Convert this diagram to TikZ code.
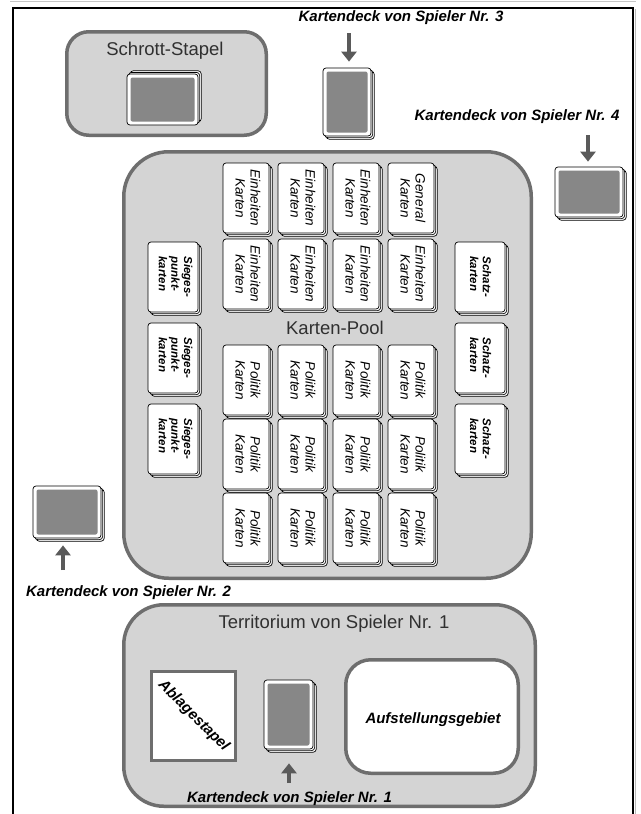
\documentclass[tikz,border=0pt]{standalone}
\usepackage{fontspec}
\setmainfont{Liberation Sans}
\usetikzlibrary{arrows.meta,shadows}

\definecolor{zonefill}{HTML}{D4D4D4}
\definecolor{zoneline}{HTML}{6E6E6E}
\definecolor{deckfill}{HTML}{878787}
\definecolor{arrowgray}{HTML}{5A5A5A}
\definecolor{titlegray}{HTML}{303030}

% two or three stacked lines, set in the current font
\newcommand{\cstack}[1]{\begin{tabular}{@{}c@{}}#1\end{tabular}}
\newcommand{\lstack}[1]{\begin{tabular}{@{}l@{}}#1\end{tabular}}

\begin{document}
\begin{tikzpicture}[x=1pt,y=-1pt,
  zone/.style={draw=zoneline, line width=3.5pt, fill=zonefill, inner sep=0pt, outer sep=0pt},
  zonetitle/.style={text=titlegray, font=\fontsize{18.5}{22}\selectfont, inner sep=0pt},
  stackcard/.style={draw=black, line width=0.7pt, fill=white, rounded corners=3pt, inner sep=0pt,
    double copy shadow={shadow xshift=1.6pt, shadow yshift=-1.6pt, fill=white, draw=black, line width=0.7pt}},
  upstack/.style={draw=black, line width=0.7pt, fill=white, rounded corners=3pt, inner sep=0pt,
    double copy shadow={shadow xshift=1.6pt, shadow yshift=1.6pt, fill=white, draw=black, line width=0.7pt}},
  deckface/.style={path picture={\fill[deckfill, rounded corners=2pt]
      ([xshift=3.5pt,yshift=-3.5pt]path picture bounding box.north west) rectangle
      ([xshift=-3.5pt,yshift=3.5pt]path picture bounding box.south east);}},
  cardtext/.style={rotate=-90, inner sep=0pt,
    font=\fontsize{13.5}{15}\selectfont\itshape},
  sidetext/.style={rotate=-90, inner sep=0pt,
    font=\fontsize{11.5}{12.6}\selectfont\bfseries\itshape},
  decklabel/.style={inner sep=0pt, font=\fontsize{15}{18}\selectfont\bfseries\itshape},
  arr/.style={draw=arrowgray, line width=4pt, -{Triangle[length=10pt,width=15pt]}}
]
\useasboundingbox (0,0) rectangle (640,814);

% outer frame
\draw[gray!45, line width=1.5pt] (10,1.5) -- (636,1.5);
\draw[gray!55, line width=1.2pt] (635.2,9) -- (635.2,814);
\draw[black, line width=2pt] (13,814) -- (13,8) -- (633,8) -- (633,814);

% scrap pile
\node[zone, rounded corners=22pt, minimum width=199.5pt, minimum height=103.5pt] (scrap) at (166.5,83.5) {};
\node[zonetitle] (scraptitle) at (165,51) {Schrott-Stapel};
\node[upstack, deckface, minimum width=71pt, minimum height=51pt] (dscrap) at (162.5,99.5) {};

% player 3
\node[decklabel] (p3label) at (401,18) {Kartendeck von Spieler Nr. 3};
\node[stackcard, deckface, minimum width=48pt, minimum height=68pt] (d3) at (347,102) {};
\coordinate (a3) at (349,33);
\draw[arr] (a3) -- ([yshift=6pt]d3.north -| a3);

% player 4
\node[decklabel] (p4label) at (517,117) {Kartendeck von Spieler Nr. 4};
\node[stackcard, deckface, minimum width=68pt, minimum height=50pt] (d4) at (589,192) {};
\coordinate (a4) at (588,135);
\draw[arr] (a4) -- ([yshift=5pt]d4.north -| a4);

% card pool
\node[zone, rounded corners=45pt, minimum width=407.5pt, minimum height=426.5pt] (pool) at (327.5,365) {};
\node[zonetitle] (pooltitle) at (335,328) {Karten-Pool};

\foreach \c/\x/\t in {1/246/Einheiten,2/301/Einheiten,3/356/Einheiten,4/411/General} {
  \node[stackcard, minimum width=46pt, minimum height=70pt] (card1\c) at (\x,198) {};
  \node[cardtext] at (card1\c.center) {\cstack{\t\\Karten}};
}
\foreach \c/\x in {1/246,2/301,3/356,4/411} {
  \node[stackcard, minimum width=46pt, minimum height=70pt] (card2\c) at (\x,274) {};
  \node[cardtext] at (card2\c.center) {\cstack{Einheiten\\Karten}};
}
\foreach \r/\y in {3/380,4/454,5/528} {
  \foreach \c/\x in {1/246,2/301,3/356,4/411} {
    \node[stackcard, minimum width=46pt, minimum height=70pt] (card\r\c) at (\x,\y) {};
    \node[cardtext] at (card\r\c.center) {\cstack{Politik\\Karten}};
  }
}
\foreach \r/\y in {1/277,2/358,3/439} {
  \node[stackcard, minimum width=50pt, minimum height=70pt] (vp\r) at (173,\y) {};
  \node[sidetext] at ([xshift=1pt]vp\r.center) {\lstack{Sieges-\\punkt-\\karten}};
  \node[stackcard, minimum width=50pt, minimum height=70pt] (tr\r) at (480,\y) {};
  \node[sidetext] at ([xshift=-1pt]tr\r.center) {\lstack{Schatz-\\karten}};
}

% player 2
\node[stackcard, deckface, minimum width=68pt, minimum height=52pt] (d2) at (67,512) {};
\node[decklabel] (p2label) at (128.5,593) {Kartendeck von Spieler Nr. 2};
\coordinate (a2) at (63,570);
\draw[arr] (a2) -- ([yshift=-7pt]d2.south -| a2);

% territory of player 1
\node[zone, rounded corners=40pt, minimum width=411.5pt, minimum height=201.5pt] (terr) at (329.5,705.5) {};
\node[zonetitle] (terrtitle) at (334,624) {Territorium von Spieler Nr. 1};
\node[draw=zoneline, line width=3pt, fill=white, inner sep=0pt, minimum width=84pt, minimum height=89pt] (ablage) at (193.5,716) {};
\node[decklabel, rotate=-45] (ablagetext) at (ablage.center) {Ablagestapel};
\node[stackcard, deckface, minimum width=49pt, minimum height=69pt] (d1) at (288.5,714.5) {};
\node[draw=zoneline, line width=3.5pt, fill=white, rounded corners=25pt, inner sep=0pt,
  minimum width=172.5pt, minimum height=113.5pt] (setup) at (432,716.5) {};
\node[decklabel] (setuptext) at (433,720) {Aufstellungsgebiet};
\node[decklabel] (p1label) at (289.5,799) {Kartendeck von Spieler Nr. 1};
\coordinate (a1) at (289,783);
\draw[arr] (a1) -- ([yshift=-14pt]d1.south -| a1);
\end{tikzpicture}
\end{document}
